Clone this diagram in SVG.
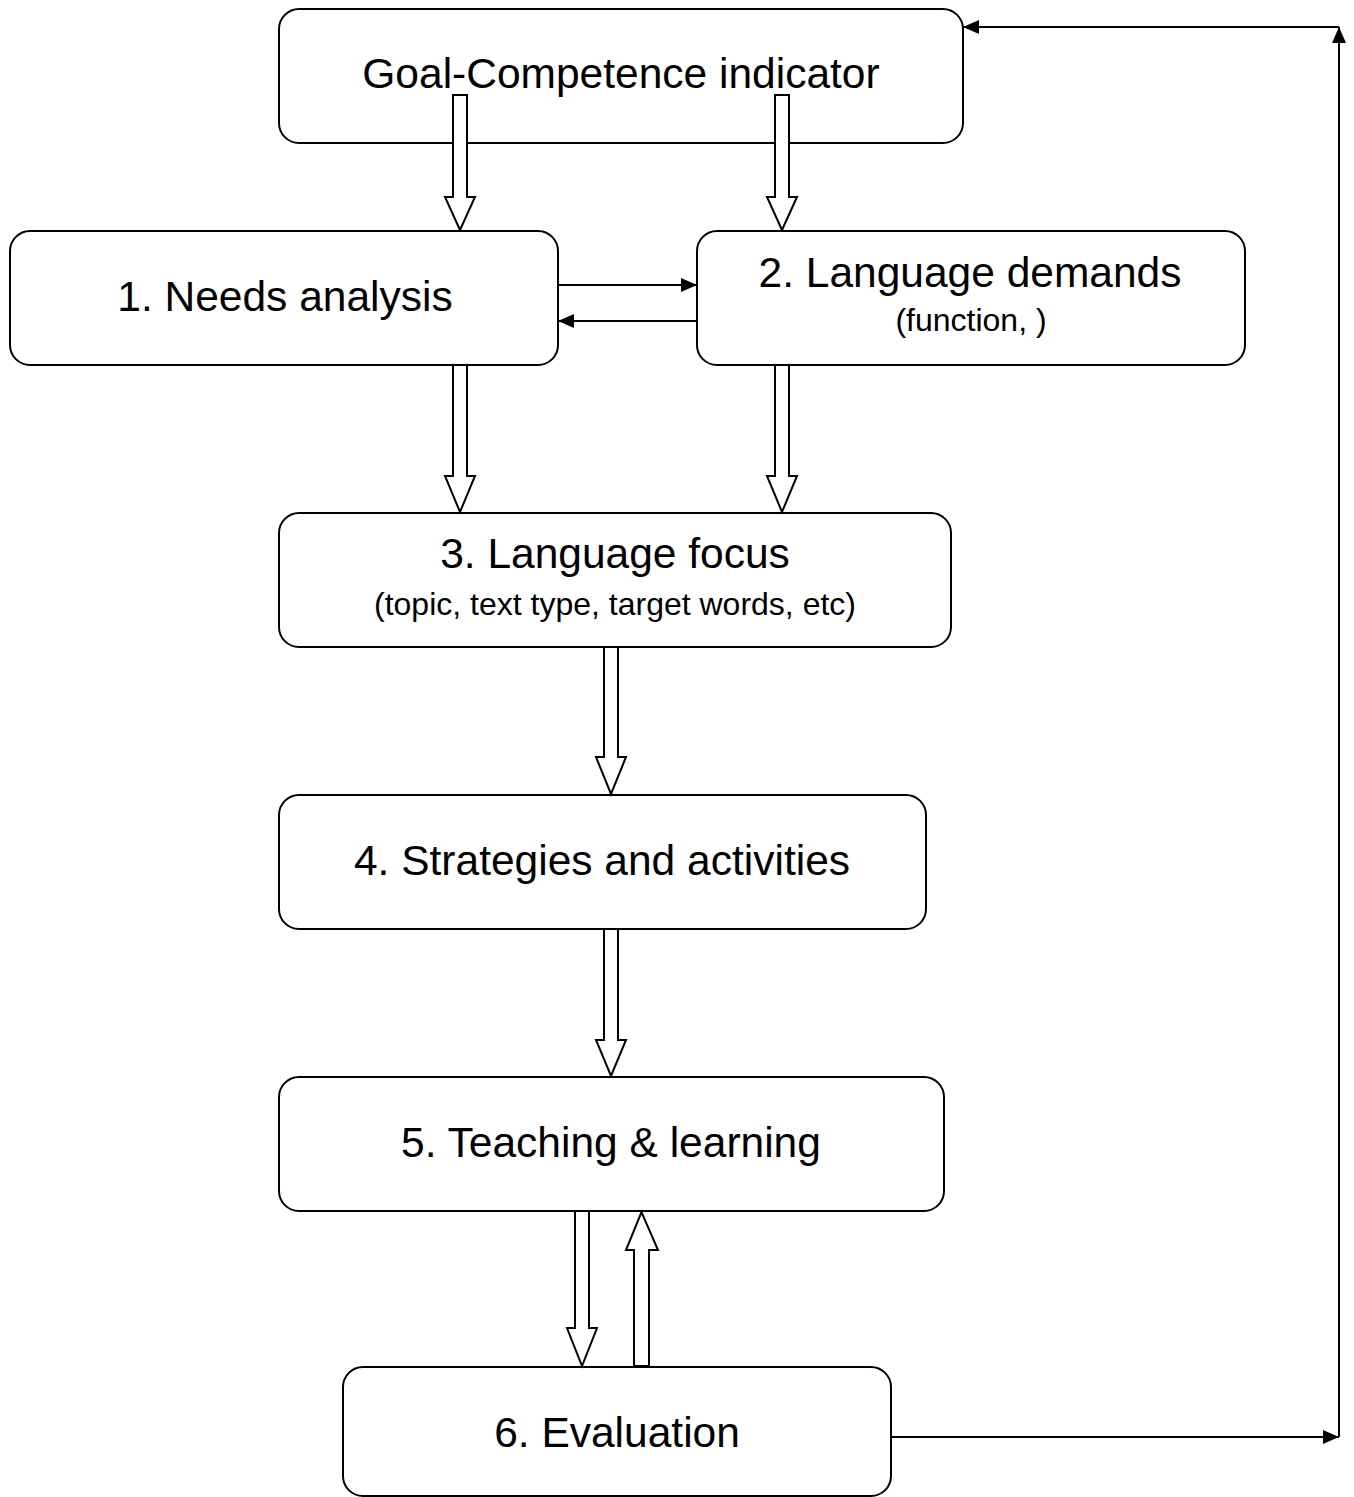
<svg xmlns="http://www.w3.org/2000/svg" width="1354" height="1497" viewBox="0 0 1354 1497">
<style>
.box{fill:#fff;stroke:#000;stroke-width:2}
.t{font-family:"Liberation Sans",Arial,sans-serif;font-size:42.5px;fill:#000;text-anchor:middle}
.s{font-family:"Liberation Sans",Arial,sans-serif;font-size:32px;fill:#000;text-anchor:middle}
.ha{fill:#fff;stroke:#000;stroke-width:2;stroke-linejoin:miter}
.ln{fill:none;stroke:#000;stroke-width:2}
</style>
<defs>
<marker id="ah" viewBox="0 0 16 14" refX="16" refY="7" markerWidth="16" markerHeight="14" markerUnits="userSpaceOnUse" orient="auto">
<path d="M0,0 L16,7 L0,14 Z" fill="#000"/>
</marker>
</defs>
<rect width="1354" height="1497" fill="#fff"/>
<g id="goal"><rect class="box" x="279" y="9" width="684" height="134" rx="20"/><text class="t" x="621" y="88">Goal-Competence indicator</text></g>
<g id="n1"><rect class="box" x="10" y="231" width="548" height="134" rx="20"/><text class="t" x="285" y="311">1. Needs analysis</text></g>
<g id="n2"><rect class="box" x="697" y="231" width="548" height="134" rx="20"/><text class="t" x="970" y="287">2. Language demands</text><text class="s" x="971" y="331">(function, )</text></g>
<g id="n3"><rect class="box" x="279" y="513" width="672" height="134" rx="20"/><text class="t" x="615" y="568">3. Language focus</text><text class="s" x="615" y="615">(topic, text type, target words, etc)</text></g>
<g id="n4"><rect class="box" x="279" y="795" width="647" height="134" rx="20"/><text class="t" x="602" y="875">4. Strategies and activities</text></g>
<g id="n5"><rect class="box" x="279" y="1077" width="665" height="134" rx="20"/><text class="t" x="611" y="1157">5. Teaching &amp; learning</text></g>
<g id="n6"><rect class="box" x="343" y="1367" width="548" height="129" rx="20"/><text class="t" x="617" y="1447">6. Evaluation</text></g>
<g id="connectors">
<polygon class="ha" points="453,95 467,95 467,197 475,197 460,230 445,197 453,197"/>
<polygon class="ha" points="775,95 789,95 789,197 797,197 782,230 767,197 775,197"/>
<polygon class="ha" points="453,365 467,365 467,476 475,476 460,512 445,476 453,476"/>
<polygon class="ha" points="775,365 789,365 789,476 797,476 782,512 767,476 775,476"/>
<polygon class="ha" points="604,647 618,647 618,757 626,757 611,794 596,757 604,757"/>
<polygon class="ha" points="604,929 618,929 618,1040 626,1040 611,1076 596,1040 604,1040"/>
<polygon class="ha" points="575,1211 589,1211 589,1328 597,1328 582,1366 567,1328 575,1328"/>
<polygon class="ha" points="634,1366 649,1366 649,1250 658,1250 641.5,1212 626,1250 634,1250"/>
<line class="ln" x1="558" y1="285" x2="697" y2="285" marker-end="url(#ah)"/>
<line class="ln" x1="697" y1="321" x2="558" y2="321" marker-end="url(#ah)"/>
<line class="ln" x1="891" y1="1437" x2="1339" y2="1437" marker-end="url(#ah)"/>
<line class="ln" x1="1339" y1="1437" x2="1339" y2="27" marker-end="url(#ah)"/>
<line class="ln" x1="1339" y1="27" x2="963" y2="27" marker-end="url(#ah)"/>
</g>
</svg>
